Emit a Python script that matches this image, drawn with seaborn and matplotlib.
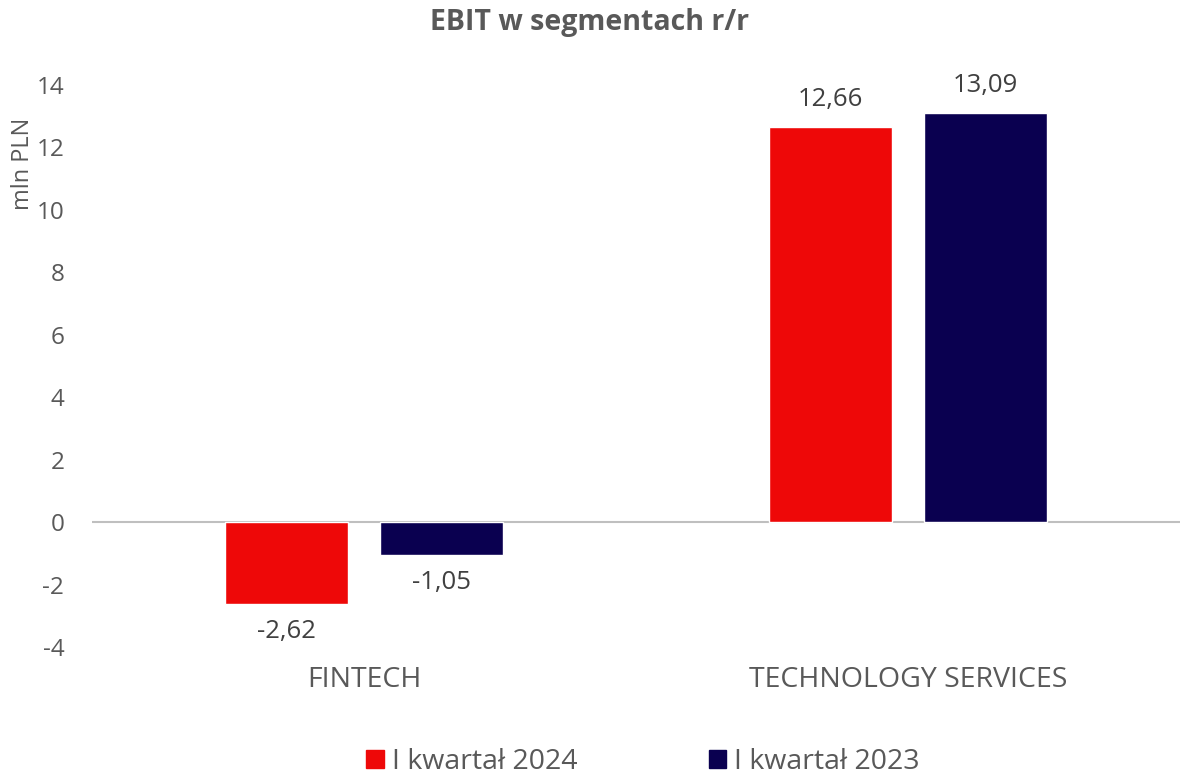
import pandas as pd
import matplotlib.pyplot as plt
import seaborn as sns
from matplotlib.patches import Patch

# Data
segments = ['FINTECH', 'TECHNOLOGY SERVICES']
periods = ['I kwartał 2024', 'I kwartał 2023']
ebit_2024 = [-2.62, 12.66]
ebit_2023 = [-1.05, 13.09]
colors = {'I kwartał 2024': '#EE0808', 'I kwartał 2023': '#0A0050'}

df = pd.DataFrame({
    'segment': segments * 2,
    'period': [periods[0]] * 2 + [periods[1]] * 2,
    'ebit': ebit_2024 + ebit_2023,
})

sns.set_style('white')
plt.rcParams['font.family'] = ['Open Sans', 'DejaVu Sans']
plt.rcParams['axes.unicode_minus'] = False
text_color = '#595959'

fig = plt.figure(figsize=(11.8, 7.78), dpi=100)
ax = fig.add_axes([0.078, 0.1684, 0.922, 0.7223])

sns.barplot(data=df, x='segment', y='ebit', hue='period', order=segments,
            hue_order=periods, palette=colors, width=0.57, gap=0.21,
            saturation=1, legend=False, ax=ax)

# Value labels
for container in ax.containers:
    labels = [f'{b.get_height():.2f}'.replace('.', ',') for b in container]
    ax.bar_label(container, labels=labels, padding=11, fontsize=18.5,
                 color='#404040')

ax.set_xlim(-0.5, 1.5)
ax.set_ylim(-4, 14)
ax.set_yticks(range(-4, 15, 2))
ax.axhline(0, color='#BFBFBF', lw=1.5, zorder=0)
for s in ax.spines.values():
    s.set_visible(False)

ax.tick_params(axis='y', length=0, pad=20, labelsize=17.5, labelcolor=text_color)
ax.tick_params(axis='x', length=0, pad=14, labelsize=20.5, labelcolor=text_color)
ax.set_xlabel('')
ax.set_ylabel('mln PLN', fontsize=17, color=text_color)
ax.yaxis.set_label_coords(-0.052, 0.86)

fig.suptitle('EBIT w segmentach r/r', x=0.5, y=0.99, fontsize=20.5,
             fontweight='bold', color=text_color)

handles = [Patch(color=colors[p]) for p in periods]
fig.legend(handles, periods, loc='lower center', bbox_to_anchor=(0.545, -0.03),
           ncol=2, frameon=False, fontsize=20.5, handlelength=0.6,
           handleheight=0.6, handletextpad=0.3, columnspacing=4.6,
           labelcolor=text_color)

fig.savefig('out.png', dpi=100)
